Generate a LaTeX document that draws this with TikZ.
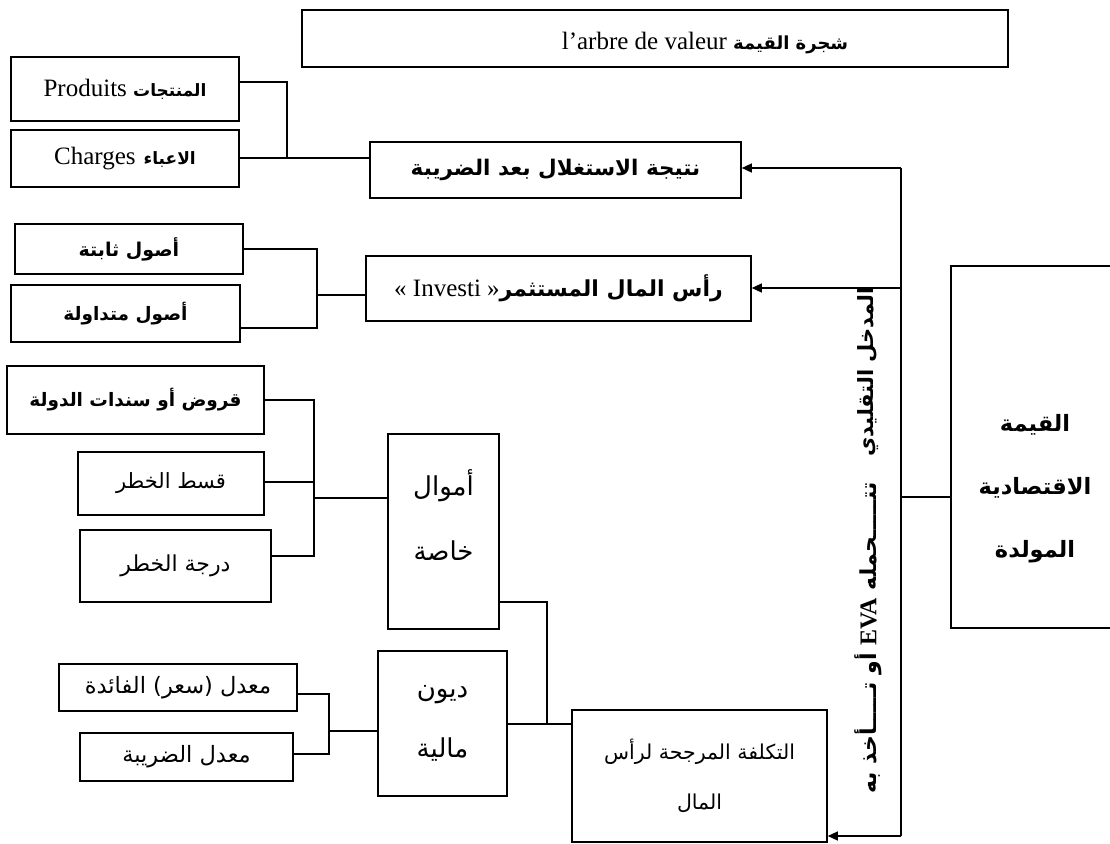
\documentclass[tikz,border=0pt]{standalone}
\usepackage{fontspec}
\setmainfont{Liberation Serif}
\newfontfamily\arfont[Script=Arabic]{DejaVu Sans}
\TeXXeTstate=1
\usetikzlibrary{arrows.meta}
\newcommand\txtAR[1]{{\arfont\beginR #1\endR}}
\newcommand\txtARB[1]{{\arfont\bfseries\beginR #1\endR}}
\tikzset{
  box/.style={draw, line width=1.6pt, inner sep=0pt},
  conn/.style={line width=1.4pt},
  arr/.style={conn, -{Triangle[length=10pt,width=9pt]}},
  lat/.style={font=\fontsize{25}{30}\selectfont},
  arreg/.style={font=\arfont\fontsize{21}{26}\selectfont},
  arbold/.style={font=\arfont\bfseries\fontsize{21.5}{26}\selectfont},
}
\begin{document}
\begin{tikzpicture}[x=1pt,y=-1pt]
\useasboundingbox (0,0) rectangle (1110,843);
% title
\node[box, minimum width=706pt, minimum height=57pt] (title) at (655,38.5) {};
\node[lat, inner sep=0pt] (titletxt) at (705,43) {l’arbre de valeur {\fontsize{18}{22}\selectfont\txtARB{شجرة القيمة}}};
% row 1
\node[box, lat, minimum width=228pt, minimum height=64pt] (prod) at (125,89) {Produits {\fontsize{17}{20}\selectfont\txtARB{المنتجات}}};
\node[box, lat, minimum width=228pt, minimum height=57pt] (charg) at (125,158.5) {Charges\hspace{8pt}{\fontsize{17}{20}\selectfont\txtARB{الاعباء}}};
\node[box, arbold, minimum width=371pt, minimum height=56pt] (res) at (555.5,170) {\beginR نتيجة الاستغلال بعد الضريبة\endR};
% row 2
\node[box, font=\arfont\bfseries\fontsize{19}{22}\selectfont, minimum width=228pt, minimum height=50pt] (fixed) at (129,249) {\beginR أصول ثابتة\endR};
\node[box, font=\arfont\bfseries\fontsize{18.5}{22}\selectfont, minimum width=229pt, minimum height=57pt] (med) at (125.5,313.5) {\beginR أصول متداولة\endR};
\node[box, lat, minimum width=385pt, minimum height=65pt] (inv) at (558.5,288.5) {« Investi »{\fontsize{22}{26}\selectfont\txtARB{رأس المال المستثمر}}};
% row 3
\node[box, font=\arfont\bfseries\fontsize{18.5}{22}\selectfont, minimum width=257pt, minimum height=68pt] (qurud) at (135.5,400) {\beginR قروض أو سندات الدولة\endR};
\node[box, arreg, minimum width=186pt, minimum height=63pt] (qist) at (171,483.5) {\beginR قسط الخطر\endR};
\node[box, font=\arfont\fontsize{22}{26}\selectfont, minimum width=191pt, minimum height=72pt] (daraja) at (175.5,566) {\beginR درجة الخطر\endR};
\node[box, minimum width=111pt, minimum height=195pt] (amwal) at (443.5,531.5) {};
\node[font=\arfont\fontsize{26}{65}\selectfont, align=center, inner sep=0pt] (amwaltxt) at (443.5,515) {\beginR أموال\endR\\\beginR خاصة\endR};
% row 4
\node[box, font=\arfont\fontsize{22.5}{26}\selectfont, minimum width=238pt, minimum height=47pt] (mu1) at (178,687.5) {\beginR معدل (سعر) الفائدة\endR};
\node[box, font=\arfont\fontsize{22.5}{26}\selectfont, minimum width=213pt, minimum height=48pt] (mu2) at (186.5,757) {\beginR معدل الضريبة\endR};
\node[box, font=\arfont\fontsize{26}{60}\selectfont, align=center, minimum width=129pt, minimum height=145pt] (duyun) at (442.5,723.5) {\beginR ديون\endR\\\beginR مالية\endR};
\node[box, font=\arfont\fontsize{20.5}{50}\selectfont, align=center, minimum width=255pt, minimum height=132pt] (cost) at (699.5,776) {\beginR التكلفة المرجحة لرأس\endR\\\beginR المال\endR};
% right box
\node[box, minimum width=164pt, minimum height=362pt] (val) at (1033,447) {};
\node[font=\arfont\bfseries\fontsize{22.5}{63}\selectfont, align=center, inner sep=0pt] (valtxt) at (1035,489) {\beginR القيمة\endR\\\beginR الاقتصادية\endR\\\beginR المولدة\endR};
% vertical texts
\node[font=\arfont\bfseries\fontsize{21}{24}\selectfont, rotate=90, inner sep=0pt] (vtxt1) at (868,372) {\beginR المدخل التقليدي\endR};
\node[font=\arfont\bfseries\fontsize{22}{24}\selectfont, rotate=90, inner sep=0pt] (vtxt2) at (868,638) {\beginR تتـــــحمله \beginL{\rmfamily\bfseries\fontsize{24}{28}\selectfont EVA}\endL{} أو تـــــأخذ به\endR};
% connectors row 1
\coordinate (j1a) at (287,82);
\coordinate (j1) at (287,158);
\draw[conn] (j1a -| prod.east) -- (j1a) -- (j1) -- (j1 -| charg.east);
\draw[conn] (j1) -- (j1 -| res.west);
% row 2
\coordinate (j2a) at (317,249);
\coordinate (j2b) at (317,328);
\coordinate (j2) at (317,295);
\draw[conn] (fixed.east) -- (j2a) -- (j2b) -- (j2b -| med.east);
\draw[conn] (j2) -- (j2 -| inv.west);
% row 3
\coordinate (j3a) at (314,400);
\coordinate (j3b) at (314,556);
\coordinate (j3c) at (314,482);
\coordinate (j3) at (314,498);
\draw[conn] (qurud.east) -- (j3a) -- (j3b) -- (j3b -| daraja.east);
\draw[conn] (j3c -| qist.east) -- (j3c);
\draw[conn] (j3) -- (j3 -| amwal.west);
% row 4
\coordinate (j4a) at (329,694);
\coordinate (j4b) at (329,754);
\coordinate (j4) at (329,731);
\draw[conn] (j4a -| mu1.east) -- (j4a) -- (j4b) -- (j4b -| mu2.east);
\draw[conn] (j4) -- (j4 -| duyun.west);
% to cost
\coordinate (j5a) at (547,602);
\coordinate (j5) at (547,724);
\draw[conn] (j5a -| amwal.east) -- (j5a) -- (j5) -- (j5 -| cost.west);
\draw[conn] (j5 -| duyun.east) -- (j5);
% main vertical
\coordinate (vt) at (901,168);
\coordinate (vm) at (901,288);
\coordinate (vr) at (901,497);
\coordinate (vb) at (901,836);
\draw[conn] (vt) -- (vb);
\draw[arr] (vt) -- (vt -| res.east);
\draw[arr] (vm) -- (vm -| inv.east);
\draw[arr] (vb) -- (vb -| cost.east);
\draw[conn] (vr) -- (vr -| val.west);
\end{tikzpicture}
\end{document}
